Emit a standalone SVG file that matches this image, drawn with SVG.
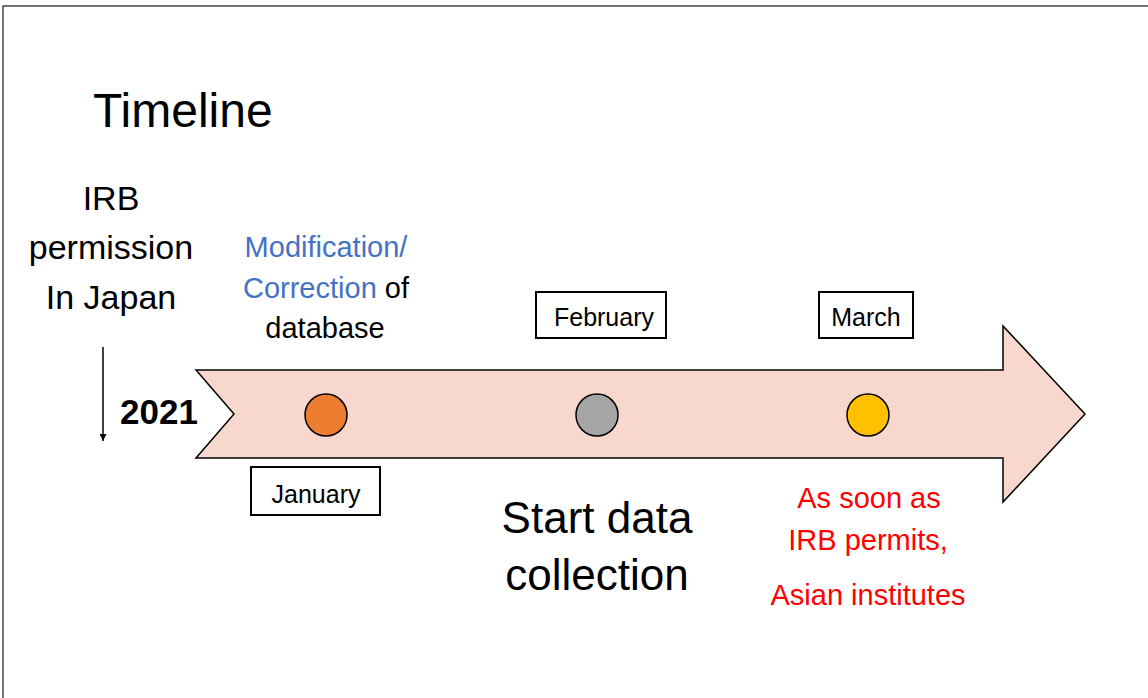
<svg xmlns="http://www.w3.org/2000/svg" width="1148" height="698" viewBox="0 0 1148 698">
<style>
text{font-family:"Liberation Sans",Arial,sans-serif;fill:#000}
.lbl{font-size:25px;text-anchor:middle}
.box{fill:#fff;stroke:#000;stroke-width:2}
.dot{stroke:#000;stroke-width:1.5}
.red{fill:#FF0000;font-size:29px;text-anchor:middle}
</style>
<defs>
<marker id="ah" viewBox="0 0 10 10" refX="10" refY="5" markerWidth="7" markerHeight="7" orient="auto" markerUnits="userSpaceOnUse">
<path d="M0,0 L10,5 L0,10 Z" fill="#000"/>
</marker>
</defs>
<rect width="1148" height="698" fill="#fff"/>
<path d="M3,698 L3,6 L1148,6" fill="none" stroke="#444" stroke-width="1.5"/>
<text x="93" y="127" font-size="48">Timeline</text>
<g id="irb">
<text x="111" y="210" font-size="34" text-anchor="middle">IRB</text>
<text x="111" y="259" font-size="34" text-anchor="middle">permission</text>
<text x="111" y="309" font-size="34" text-anchor="middle">In Japan</text>
</g>
<g id="connectors">
<line x1="103" y1="347" x2="103" y2="441" stroke="#000" stroke-width="1.5" marker-end="url(#ah)"/>
</g>
<text x="120" y="424" font-size="35" font-weight="bold">2021</text>
<g id="timeline-arrow">
<path d="M196,370 L1003,370 L1003,326 L1085,414 L1003,502 L1003,458 L196,458 L234,414 Z" fill="#F8D8CD" stroke="#000" stroke-width="1.5"/>
</g>
<g id="dot-jan"><circle class="dot" cx="326" cy="415" r="21" fill="#ED7D31"/></g>
<g id="dot-feb"><circle class="dot" cx="597" cy="415" r="21" fill="#A5A5A5"/></g>
<g id="dot-mar"><circle class="dot" cx="868" cy="415" r="21" fill="#FFC000"/></g>
<g id="modification">
<text x="326" y="257" font-size="29" text-anchor="middle" style="fill:#4472C4">Modification/</text>
<text x="326" y="298" font-size="29" text-anchor="middle"><tspan style="fill:#4472C4">Correction</tspan> of</text>
<text x="325" y="338" font-size="29" text-anchor="middle">database</text>
</g>
<g id="box-jan">
<rect class="box" x="251" y="467" width="129" height="48"/>
<text class="lbl" x="316" y="503">January</text>
</g>
<g id="box-feb">
<rect class="box" x="536" y="292" width="130" height="46"/>
<text class="lbl" x="604" y="326">February</text>
</g>
<g id="box-mar">
<rect class="box" x="819" y="292" width="94" height="46"/>
<text class="lbl" x="866" y="326">March</text>
</g>
<g id="start">
<text x="597" y="533" font-size="44" text-anchor="middle">Start data</text>
<text x="597" y="590" font-size="44" text-anchor="middle">collection</text>
</g>
<g id="asian">
<text class="red" x="869" y="508">As soon as</text>
<text class="red" x="868" y="550">IRB permits,</text>
<text class="red" x="868" y="605">Asian institutes</text>
</g>
</svg>
